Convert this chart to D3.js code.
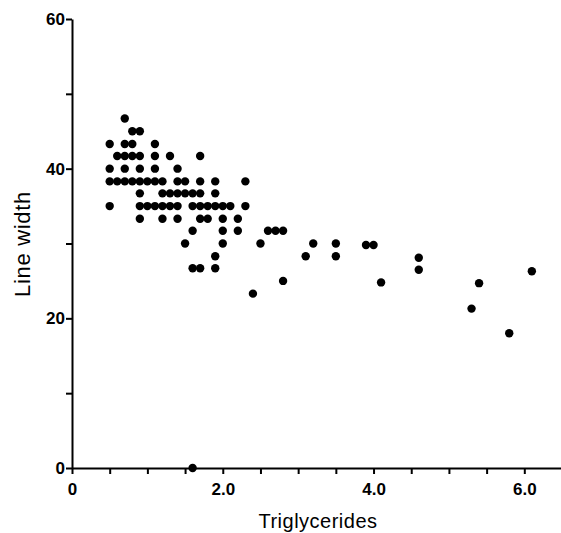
<!DOCTYPE html>
<html><head><meta charset="utf-8">
<script src="https://cdn.jsdelivr.net/npm/d3@7"></script>
<style>body{margin:0;background:#fff}svg{display:block}</style>
</head><body>
<script>
const xValues = [0.7,0.8,0.9,0.5,0.7,0.8,1.1,0.6,0.7,0.8,0.9,1.1,1.3,1.7,0.5,0.7,0.9,1.1,1.4,
  0.5,0.6,0.7,0.8,0.9,1.0,1.1,1.2,1.4,1.5,1.7,1.9,2.3,
  0.9,1.2,1.3,1.4,1.5,1.6,1.7,1.9,
  0.5,0.9,1.0,1.1,1.2,1.3,1.4,1.6,1.7,1.8,1.9,2.0,2.1,2.3,
  0.9,1.2,1.4,1.7,1.8,2.0,2.2,
  1.6,2.0,2.2,2.6,2.7,2.8,
  1.5,2.0,2.5,3.2,3.5,3.9,4.0,
  1.9,3.1,3.5,4.6,
  1.6,1.7,1.9,4.6,6.1,
  2.8,4.1,5.4,
  2.4,5.3,5.8,1.6];
const yValues = [46.7,45,45,43.3,43.3,43.3,43.3,41.7,41.7,41.7,41.7,41.7,41.7,41.7,40,40,40,40,40,
  38.3,38.3,38.3,38.3,38.3,38.3,38.3,38.3,38.3,38.3,38.3,38.3,38.3,
  36.7,36.7,36.7,36.7,36.7,36.7,36.7,36.7,
  35,35,35,35,35,35,35,35,35,35,35,35,35,35,
  33.3,33.3,33.3,33.3,33.3,33.3,33.3,
  31.7,31.7,31.7,31.7,31.7,31.7,
  30,30,30,30,30,29.8,29.8,
  28.3,28.3,28.3,28.1,
  26.7,26.7,26.7,26.5,26.3,
  25,24.8,24.7,
  23.3,21.3,18,0];
const yTicks = [0,10,20,30,40,50,60];
const yTickLabels = ["0","","20","","40","","60"];
const xTicks = [0,0.5,1,1.5,2,2.5,3,3.5,4,4.5,5,5.5,6,6.5];
const xTickLabels = {0:"0",2:"2.0",4:"4.0",6:"6.0"};

const W=561,H=533;
const FONT="Liberation Sans, Arial, sans-serif";
const svg=d3.select("body").append("svg").attr("width",W).attr("height",H);
const x=d3.scaleLinear().domain([0,6.5]).range([72,562]);
const y=d3.scaleLinear().domain([0,60]).range([468,19]);

const xAxis=d3.axisBottom(x).tickValues(xTicks).tickSize(6).tickSizeOuter(0).tickFormat(d=>xTickLabels[d]||"");
const gx=svg.append("g").attr("transform","translate(0,468)").call(xAxis);
gx.select(".domain").attr("stroke","#000").attr("stroke-width",2);
gx.selectAll(".tick line").attr("stroke-width",2);
gx.selectAll(".tick text").attr("font-family",FONT).attr("font-size",17).attr("font-weight","bold").attr("fill","#000").attr("y",27).attr("dy",0);

const yAxis=d3.axisLeft(y).tickValues(yTicks).tickSize(6).tickSizeOuter(0).tickFormat((d,i)=>yTickLabels[i]);
const gy=svg.append("g").attr("transform","translate(72,0)").call(yAxis);
gy.select(".domain").attr("stroke","#000").attr("stroke-width",2);
gy.selectAll(".tick line").attr("stroke-width",2);
gy.selectAll(".tick text").attr("font-family",FONT).attr("font-size",17).attr("font-weight","bold").attr("fill","#000").attr("x",-7);

svg.append("g").selectAll("circle").data(xValues.map((v,i)=>[v,yValues[i]])).join("circle")
  .attr("cx",d=>x(d[0])).attr("cy",d=>y(d[1])).attr("r",4.2).attr("fill","#000");

svg.append("text").attr("x",318).attr("y",528).attr("text-anchor","middle")
  .attr("font-family",FONT).attr("font-size",20).attr("letter-spacing","0.5px").attr("fill","#000").text("Triglycerides");
svg.append("text").attr("transform","translate(30,244) rotate(-90)").attr("text-anchor","middle")
  .attr("font-family",FONT).attr("font-size",22).attr("letter-spacing","0.7px").attr("fill","#000").text("Line width");
</script>
</body></html>
